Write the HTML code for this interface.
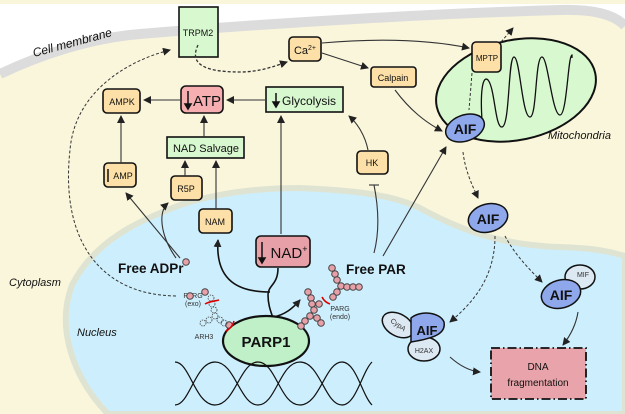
<!DOCTYPE html>
<html><head><meta charset="utf-8"><style>
html,body{margin:0;padding:0;background:#fff}
svg{display:block}
text{font-family:"Liberation Sans",sans-serif}
</style></head><body>
<svg width="625" height="414" viewBox="0 0 625 414" xmlns="http://www.w3.org/2000/svg">
<defs>
<marker id="a" markerWidth="8" markerHeight="8" refX="7" refY="4" orient="auto" markerUnits="userSpaceOnUse"><path d="M0,0 L8,4 L0,8 z" fill="#222"/></marker>
</defs>
<rect width="625" height="414" fill="#fff"/>
<rect width="625" height="4" fill="#faf6dc"/>
<path d="M0,74 C40,55 90,38 140,34 C260,24 420,14 560,10 C595,9 615,15 625,26 L625,414 L0,414 Z" fill="#faf6dc"/>
<path d="M0,74 C40,55 90,38 140,34 C260,24 420,14 560,10 C595,9 615,15 625,26" fill="none" stroke="#dcdcdc" stroke-width="10"/>
<path d="M108,414 C75,380 55,330 72,285 C95,240 140,220 180,205 C220,192 260,188 300,188 C350,190 390,194 420,208 C460,230 500,245 560,247 C595,248 612,252 625,256 L625,414 Z" fill="#cdeefc" stroke="#dfe4d2" stroke-width="6"/>
<ellipse cx="516" cy="90" rx="81" ry="50" transform="rotate(-12 516 90)" fill="#d8f8d0" stroke="#111" stroke-width="2"/>
<path d="M482,120 C480,90 483,75 488,80 C495,88 495,128 502,127 C510,126 508,57 514,57 C520,57 522,117 530,117 C537,117 535,57 542,57 C548,57 552,115 560,115 C567,115 568,55 572,55 L572,58" fill="none" stroke="#111" stroke-width="1.3"/>
<g stroke="#111" stroke-width="1.6">
<rect x="179" y="7" width="39" height="50" fill="#d8f8d0"/>
<rect x="289" y="37" width="32" height="24" rx="4" fill="#fde0a8"/>
<rect x="472" y="42" width="29" height="30" rx="4" fill="#fde0a8"/>
<rect x="371" y="67" width="45" height="20" rx="3" fill="#fde0a8"/>
<rect x="103" y="89" width="37" height="24" rx="4" fill="#fde0a8"/>
<rect x="181" y="86" width="42" height="27" rx="5" fill="#f6aeb0"/>
<rect x="266" y="87" width="77" height="25" fill="#d8f8d0"/>
<rect x="167" y="137" width="77" height="21" fill="#d8f8d0"/>
<rect x="104" y="163" width="32" height="24" rx="4" fill="#fde0a8"/>
<rect x="171" y="176" width="31" height="24" rx="4" fill="#fde0a8"/>
<rect x="199" y="209" width="33" height="24" rx="4" fill="#fde0a8"/>
<rect x="256" y="236" width="54" height="31" rx="5" fill="#e8a0a8"/>
<rect x="357" y="151" width="31" height="23" rx="4" fill="#fde0a8"/>
</g>
<rect x="491" y="348" width="95" height="51" fill="#e8a4aa" stroke="#111" stroke-width="1.8" stroke-dasharray="9,3,1.5,3"/>
<g font-size="11" fill="#111" text-anchor="middle">
<text x="198" y="36" font-size="9">TRPM2</text>
<text x="305" y="54">Ca<tspan font-size="7" dy="-4">2+</tspan></text>
<text x="487" y="61" font-size="8">MPTP</text>
<text x="393" y="81" font-size="9">Calpain</text>
<text x="122" y="105" font-size="9">AMPK</text>
<text x="207" y="106" font-size="15">ATP</text>
<text x="309" y="105" font-size="12">Glycolysis</text>
<text x="206" y="152" font-size="11">NAD Salvage</text>
<text x="123" y="179" font-size="9">AMP</text>
<text x="186" y="192" font-size="9">R5P</text>
<text x="215" y="225" font-size="9">NAM</text>
<text x="289" y="258" font-size="15">NAD<tspan font-size="9" dy="-6">+</tspan></text>
<text x="372" y="166" font-size="9">HK</text>
<text x="538" y="370" font-size="10">DNA</text>
<text x="538" y="386" font-size="10">fragmentation</text>
</g>
<g stroke="#111" stroke-width="1.5" fill="#111">
<line x1="188" y1="91" x2="188" y2="106"/><path d="M185,104 L191,104 L188,109z"/>
<line x1="276" y1="93" x2="276" y2="104"/><path d="M273,102 L279,102 L276,107z"/>
<line x1="108" y1="169" x2="108" y2="182"/>
<line x1="262" y1="242" x2="262" y2="260"/><path d="M259,258 L265,258 L262,263z"/>
</g>
<text x="34" y="57" font-size="12" font-style="italic" fill="#111" transform="rotate(-15 34 57)">Cell membrane</text>
<text x="9" y="286" font-size="11" font-style="italic" fill="#111">Cytoplasm</text>
<text x="77" y="336" font-size="11" font-style="italic" fill="#111">Nucleus</text>
<text x="548" y="139" font-size="11" font-style="italic" fill="#111">Mitochondria</text>
<text x="118" y="273" font-size="13.5" font-weight="bold" fill="#111">Free ADPr</text>
<text x="346" y="274" font-size="13.5" font-weight="bold" fill="#111">Free PAR</text>
<g fill="none" stroke="#333" stroke-width="1.1">
<path d="M121,163 L121,116" marker-end="url(#a)"/>
<path d="M265,100 L227,100" marker-end="url(#a)"/>
<path d="M180,100 L144,100" marker-end="url(#a)"/>
<path d="M204,137 L204,116" marker-end="url(#a)"/>
<path d="M185,176 L185,161" marker-end="url(#a)"/>
<path d="M216,209 L216,161" marker-end="url(#a)"/>
<path d="M281,234 L281,116" marker-end="url(#a)"/>
<path d="M180,258 L126,193" marker-end="url(#a)"/>
<path d="M176,258 C160,235 158,212 168,203" marker-end="url(#a)"/>
<path d="M322,43 C380,38 430,40 469,48" marker-end="url(#a)"/>
<path d="M322,53 L368,68" marker-end="url(#a)"/>
<path d="M395,90 C410,110 425,122 442,131" marker-end="url(#a)"/>
<path d="M383,256 L446,147" marker-end="url(#a)"/>
<path d="M368,150 C365,135 357,123 349,116" marker-end="url(#a)"/>
<path d="M374,253 C380,230 378,205 374,185"/>
<path d="M369,185 L379,185"/>
<path d="M578,312 C576,325 570,336 563,345" marker-end="url(#a)"/>
<path d="M450,357 C460,366 470,371 480,372" marker-end="url(#a)"/>
</g>
<g fill="none" stroke="#111" stroke-width="1.6">
<path d="M278,268 C278,285 268,285 268,295 C268,305 271,312 273,318"/>
<path d="M270,292 C240,292 215,282 218,240" marker-end="url(#a)"/>
<path d="M273,317 C285,315 293,308 300,300" marker-end="url(#a)"/>
</g>
<g fill="none" stroke="#333" stroke-width="1" stroke-dasharray="3,2">
<path d="M198,45 C190,62 200,72 240,72 C260,72 275,66 287,62" marker-end="url(#a)" stroke-width="1.3"/>
<path d="M176,296 C100,295 60,240 70,150 C75,90 130,60 170,50" marker-end="url(#a)"/>
<path d="M472,73 L469,110"/>
<path d="M501,42 L513,28" marker-end="url(#a)"/>
<path d="M463,152 C465,170 472,185 478,198" marker-end="url(#a)"/>
<path d="M495,236 C495,280 470,305 450,322" marker-end="url(#a)"/>
<path d="M505,236 C515,255 530,270 542,282" marker-end="url(#a)"/>
</g>
<g stroke="#111" stroke-width="1.5">
<ellipse cx="465" cy="128" rx="20" ry="13" transform="rotate(-20 465 128)" fill="#8fa8ec"/>
<ellipse cx="488" cy="218" rx="20" ry="14" transform="rotate(-15 488 218)" fill="#8fa8ec"/>
<ellipse cx="580" cy="277" rx="15" ry="12" fill="#dce8f2"/>
<ellipse cx="561" cy="294" rx="20" ry="14" transform="rotate(-15 561 294)" fill="#8fa8ec"/>
<ellipse cx="398" cy="325" rx="17" ry="11" transform="rotate(30 398 325)" fill="#dce8f2"/>
<ellipse cx="424" cy="349" rx="16" ry="12" fill="#dce8f2"/>
<path d="M411,318 C420,310 440,312 444,322 C446,333 436,338 411,342 Z" fill="#8fa8ec"/>
</g>
<g font-weight="bold" fill="#111" text-anchor="middle" font-size="14">
<text x="465" y="134">AIF</text>
<text x="488" y="224">AIF</text>
<text x="561" y="300">AIF</text>
<text x="427" y="335" font-size="13">AIF</text>
</g>
<g font-size="7" fill="#333" text-anchor="middle">
<text x="583" y="277">MIF</text>
<text x="424" y="353">H2AX</text>
<text x="398" y="327" transform="rotate(35 398 325)">CypA</text>
<text x="193" y="298">PARG</text><text x="193" y="306">(exo)</text>
<text x="204" y="339">ARH3</text>
<text x="340" y="311">PARG</text><text x="340" y="319">(endo)</text>
</g>
<ellipse cx="266" cy="341" rx="43" ry="25" fill="#bff0c8" stroke="#111" stroke-width="2.2"/>
<text x="266" y="347" font-size="15" font-weight="bold" text-anchor="middle" fill="#111">PARP1</text>
<g fill="none" stroke="#111" stroke-width="1.2">
<path d="M175,362 C190,362 195,405 215,405 C235,405 240,362 258,362 C276,362 280,405 300,405 C320,405 325,362 342,362 C356,362 362,395 372,405"/>
<path d="M175,405 C190,405 195,362 215,362 C235,362 240,405 258,405 C276,405 280,362 300,362 C320,362 325,405 342,405 C356,405 362,372 372,362"/>
</g>
<g fill="#e8a0a8" stroke="#444" stroke-width="1">
<circle cx="186" cy="262" r="3.3"/>
<circle cx="190" cy="296" r="3.3"/><circle cx="205" cy="292" r="3.3"/>
<circle cx="229" cy="325" r="3.3"/>
<circle cx="308" cy="292" r="3.3"/><circle cx="311" cy="298" r="3.3"/><circle cx="312" cy="304" r="3.3"/><circle cx="314" cy="310" r="3.3"/><circle cx="310" cy="316" r="3.3"/><circle cx="305" cy="321" r="3.3"/><circle cx="301" cy="326" r="3.3"/><circle cx="317" cy="318" r="3.3"/><circle cx="321" cy="323" r="3.3"/><circle cx="319" cy="304" r="3.3"/>
<circle cx="332" cy="268" r="3.3"/><circle cx="335" cy="274" r="3.3"/><circle cx="337" cy="280" r="3.3"/><circle cx="341" cy="286" r="3.3"/><circle cx="347" cy="287" r="3.3"/><circle cx="353" cy="287" r="3.3"/><circle cx="359" cy="287" r="3.3"/><circle cx="337" cy="292" r="3.3"/><circle cx="333" cy="297" r="3.3"/>
</g>
<g fill="none" stroke="#444" stroke-width="0.8" stroke-dasharray="1.5,1">
<circle cx="211" cy="298" r="3"/><circle cx="212" cy="304" r="3"/><circle cx="214" cy="310" r="3"/><circle cx="215" cy="316" r="3"/><circle cx="209" cy="320" r="3"/><circle cx="203" cy="323" r="3"/><circle cx="220" cy="320" r="3"/><circle cx="224" cy="323" r="3"/>
</g>
<g fill="none" stroke="#d00" stroke-width="1.6">
<path d="M205,304 C210,301 216,301 219,300"/>
<path d="M226,331 C230,329 233,325 234,321"/>
<path d="M322,297 C324,301 327,303 330,304"/>
</g>
</svg>
</body></html>
